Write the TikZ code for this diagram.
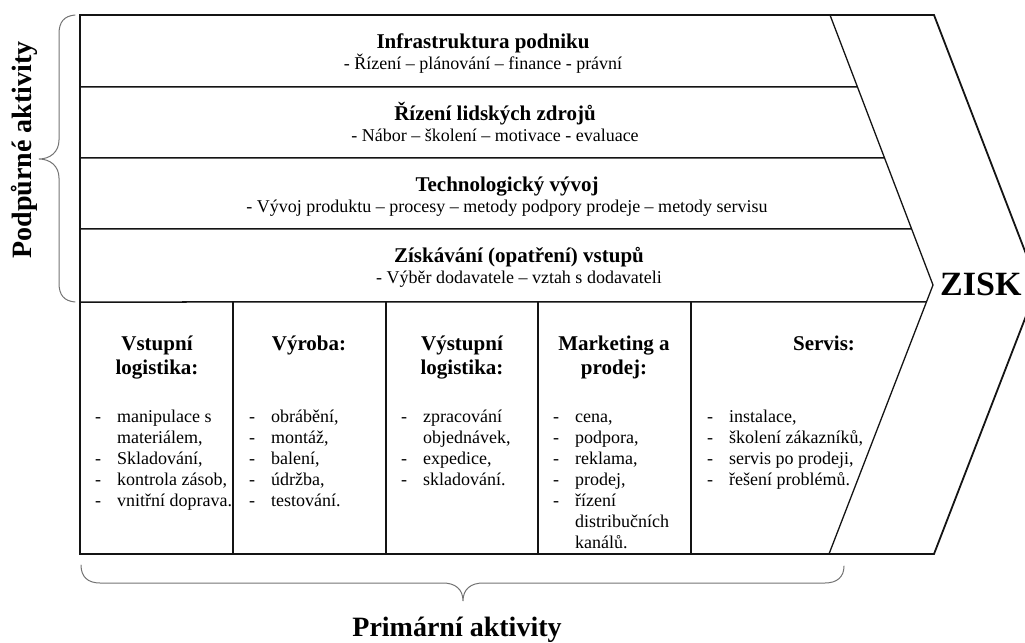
\documentclass[tikz,border=0pt]{standalone}
\usepackage{fontspec}
\setmainfont{Liberation Serif}
\usetikzlibrary{calc}
% stacked centred lines, baseline on the first line
\newcommand{\vcstack}[1]{\begin{tabular}[t]{@{}c@{}}#1\end{tabular}}
% dash list, baseline on the first item
\newcommand{\vclist}[1]{\begin{tabular}[t]{@{}l@{\hspace{16bp}}l@{}}#1\end{tabular}}
\begin{document}
\begin{tikzpicture}[x=1bp,y=-1bp,
  frame/.style={line width=1.8bp, draw=black!92, line join=miter},
  divider/.style={line width=1.5bp, draw=black!92},
  slant/.style={line width=1.3bp, draw=black!92},
  brace/.style={line width=1bp, draw=black!55, line cap=round},
  rowhead/.style={anchor=base, inner sep=0pt, font=\fontsize{21bp}{24bp}\selectfont\bfseries},
  rowsub/.style={anchor=base, inner sep=0pt, font=\fontsize{18bp}{21bp}\selectfont},
  colhead/.style={anchor=base, inner sep=0pt, font=\fontsize{21bp}{24bp}\selectfont\bfseries},
  items/.style={anchor=base west, inner sep=0pt, font=\fontsize{18bp}{21bp}\selectfont},
  sidelabel/.style={anchor=base, inner sep=0pt, font=\fontsize{28bp}{32bp}\selectfont\bfseries},
  profit/.style={anchor=base west, inner sep=0pt, font=\fontsize{34bp}{38bp}\selectfont\bfseries},
]
\useasboundingbox (0,0) rectangle (1025,643);
\clip (0,0) rectangle (1025,643);

% corner points of the value chain arrow
\coordinate (tl) at (80,15);
\coordinate (tr) at (934,15);
\coordinate (tip) at (1038,285);
\coordinate (br) at (934,554);
\coordinate (bl) at (80,554);
% inner chevron line
\coordinate (it) at (830,15);
\coordinate (iv) at (933,285);
\coordinate (ib) at (829,554);

% outline and inner chevron
\draw[frame] (tl) -- (tr) -- (tip) -- (br) -- (bl) -- cycle;
\draw[slant] (it) -- (iv) -- (ib);

% support activity rows
\foreach \y in {87,158,229} {
  \draw[divider] (80,\y) -- ($(it)!{(\y-15)/270}!(iv)$);
}
\draw[divider] (80,302) -- ($(iv)!{(302-285)/269}!(ib)$);

% primary activity columns
\foreach \x in {233,386,538,691} {
  \draw[divider] (\x,302) -- (\x,554);
}

% support activity texts
\node[rowhead] (r1h) at (483,49) {Infrastruktura podniku};
\node[rowsub]  (r1s) at (483,70) {- Řízení – plánování – finance - právní};
\node[rowhead] (r2h) at (495,121) {Řízení lidských zdrojů};
\node[rowsub]  (r2s) at (495,142) {- Nábor – školení – motivace - evaluace};
\node[rowhead] (r3h) at (507,192) {Technologický vývoj};
\node[rowsub]  (r3s) at (507,213) {- Vývoj produktu – procesy – metody podpory prodeje – metody servisu};
\node[rowhead] (r4h) at (519,263) {Získávání (opatření) vstupů};
\node[rowsub]  (r4s) at (519,284) {- Výběr dodavatele – vztah s dodavateli};

% primary activity headings
\node[colhead] (c1h) at (157,350) {\vcstack{Vstupní\\logistika:}};
\node[colhead] (c2h) at (309,350) {\vcstack{Výroba:}};
\node[colhead] (c3h) at (462,350) {\vcstack{Výstupní\\logistika:}};
\node[colhead] (c4h) at (614,350) {\vcstack{Marketing a\\prodej:}};
\node[colhead] (c5h) at (824,350) {\vcstack{Servis:}};

% primary activity lists
\node[items] (c1l) at (95,422) {\vclist{-&manipulace s\\&materiálem,\\-&Skladování,\\-&kontrola zásob,\\-&vnitřní doprava.}};
\node[items] (c2l) at (249,422) {\vclist{-&obrábění,\\-&montáž,\\-&balení,\\-&údržba,\\-&testování.}};
\node[items] (c3l) at (401,422) {\vclist{-&zpracování\\&objednávek,\\-&expedice,\\-&skladování.}};
\node[items] (c4l) at (553,422) {\vclist{-&cena,\\-&podpora,\\-&reklama,\\-&prodej,\\-&řízení\\&distribučních\\&kanálů.}};
\node[items] (c5l) at (707,422) {\vclist{-&instalace,\\-&školení zákazníků,\\-&servis po prodeji,\\-&řešení problémů.}};

% result
\node[profit] (zisk) at (940,296) {ZISK};

% braces and group labels
\draw[brace] (75,15) .. controls (64,16) and (59,22) .. (59,34)
  -- (59,140) .. controls (59,152) and (50,159) .. (39,159)
  .. controls (50,159) and (59,166) .. (59,178)
  -- (59,283) .. controls (59,295) and (64,301) .. (75,302);
\node[sidelabel, rotate=90] (support) at (31,150) {Podpůrné aktivity};

\draw[brace] (81,565) .. controls (81,577) and (88,583) .. (100,583)
  -- (443,583) .. controls (455,583) and (463,589) .. (463,601)
  .. controls (463,589) and (471,583) .. (483,583)
  -- (825,583) .. controls (837,583) and (844,577) .. (844,566);
\node[sidelabel] (primary) at (457,636) {Primární aktivity};
\end{tikzpicture}
\end{document}
